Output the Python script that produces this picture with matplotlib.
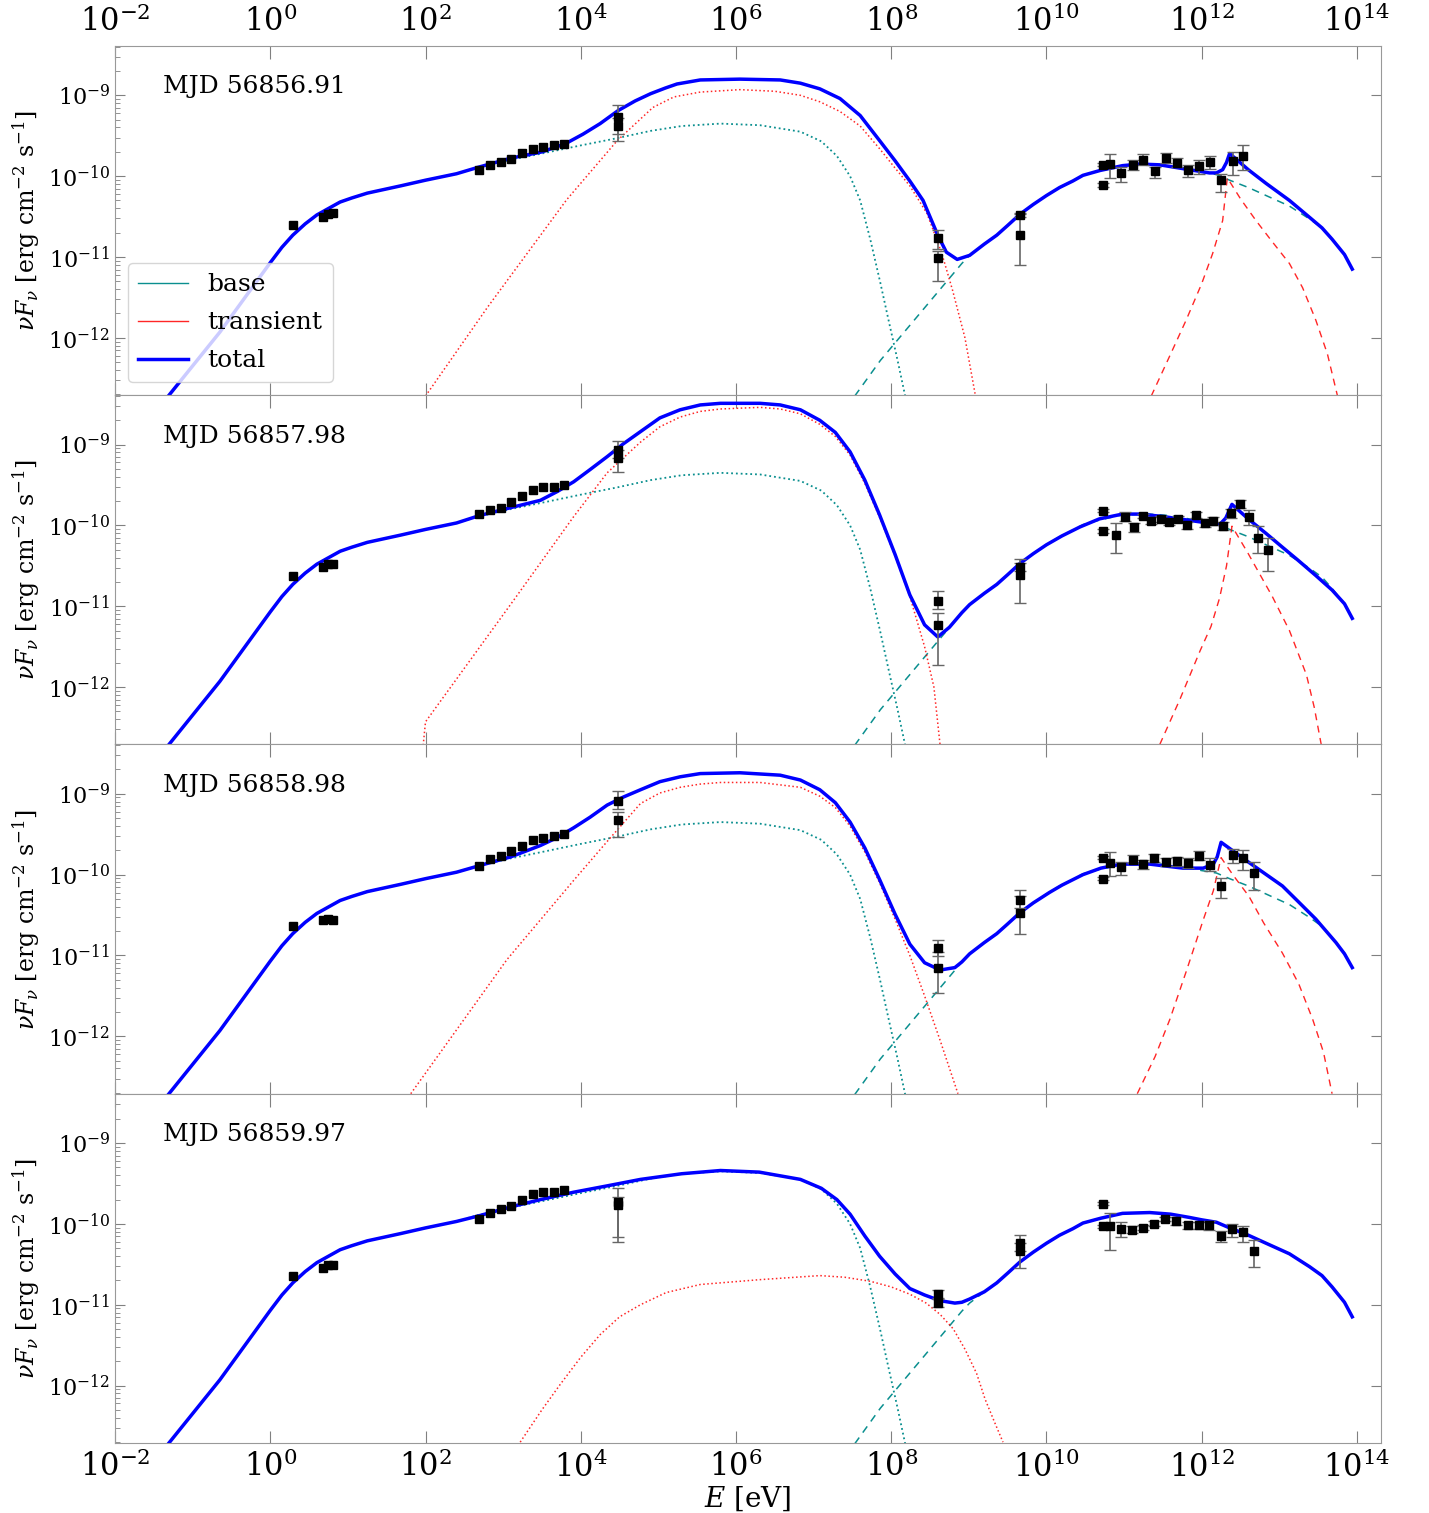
import numpy as np
import matplotlib.pyplot as plt
from matplotlib.lines import Line2D
from matplotlib.ticker import LogLocator, NullLocator, NullFormatter

plt.rcParams['font.family'] = 'DejaVu Serif'
plt.rcParams['mathtext.fontset'] = 'dejavuserif'

# everything below is log10(E / eV) and log10(nuFnu)
mjd = ["MJD 56856.91", "MJD 56857.98", "MJD 56858.98", "MJD 56859.97"]

# low-energy part of the synchrotron bump (same every night)
lowE = [-1.305, -0.65, 0.0, 0.15, 0.29, 0.45, 0.6, 0.75, 0.9, 1.05, 1.25, 1.68, 2.0]
lowF = [-12.71, -11.93, -11.07, -10.88, -10.73, -10.59, -10.48, -10.40, -10.32, -10.27, -10.21, -10.12, -10.05]

# steady ("base") component, same in all four nights
base_syn_E = lowE + [2.4, 2.68, 3.09, 3.5, 4.0, 4.47, 4.9, 5.3, 5.8, 6.31, 6.83, 7.1, 7.3, 7.47, 7.6, 7.73,
                     7.86, 7.97, 8.08, 8.18]
base_syn_F = lowF + [-9.97, -9.89, -9.80, -9.72, -9.62, -9.53, -9.44, -9.38, -9.35, -9.37, -9.45, -9.57, -9.75,
                     -10.0, -10.3, -10.78, -11.32, -11.80, -12.27, -12.72]
base_ic_E = [7.53, 7.86, 8.91, 9.01, 9.2, 9.36, 9.5, 9.66, 9.83, 10.0, 10.17, 10.34, 10.47, 10.7, 10.98, 11.33,
             11.6, 11.84, 12.0, 12.19, 12.36, 12.6, 12.83, 13.13, 13.39, 13.55, 13.68, 13.84, 13.94]
base_ic_F = [-12.72, -12.28, -11.08, -10.98, -10.84, -10.73, -10.61, -10.47, -10.35, -10.24, -10.14, -10.06,
             -9.99, -9.93, -9.87, -9.86, -9.88, -9.92, -9.95, -9.98, -10.05, -10.14, -10.24, -10.37, -10.53,
             -10.64, -10.78, -10.97, -11.15]

# total model, night 1..4
tot1_E = lowE + [2.4, 2.68, 3.09, 3.5, 3.8, 4.03, 4.25, 4.48, 4.7, 4.9, 5.09, 5.24, 5.54, 6.05, 6.57, 6.83,
                 7.08, 7.34, 7.6, 7.85, 8.05, 8.24, 8.41, 8.6, 8.71, 8.85, 9.01, 9.2, 9.36, 9.5, 9.66, 9.83,
                 10.0, 10.17, 10.34, 10.47, 10.69, 10.98, 11.2, 11.46, 11.84, 12.1, 12.19, 12.27, 12.32, 12.36,
                 12.6, 12.83, 13.13, 13.39, 13.55, 13.68, 13.84, 13.94]
tot1_F = lowF + [-9.97, -9.89, -9.78, -9.70, -9.60, -9.48, -9.35, -9.19, -9.07, -8.98, -8.91, -8.86, -8.81,
                 -8.80, -8.81, -8.85, -8.92, -9.04, -9.25, -9.56, -9.81, -10.06, -10.30, -10.73, -10.94, -11.03,
                 -10.98, -10.84, -10.73, -10.61, -10.47, -10.35, -10.24, -10.14, -10.06, -9.99, -9.93, -9.87,
                 -9.85, -9.86, -9.92, -9.96, -9.96, -9.92, -9.83, -9.72, -9.92, -10.09, -10.30, -10.51, -10.64,
                 -10.78, -10.97, -11.15]
tot2_E = lowE + [2.4, 2.69, 3.1, 3.48, 3.7, 3.91, 4.12, 4.34, 4.55, 4.77, 5.02, 5.28, 5.54, 5.8, 6.31, 6.57,
                 6.83, 7.08, 7.28, 7.47, 7.66, 7.85, 8.05, 8.24, 8.43, 8.6, 8.75, 8.91, 9.01, 9.2, 9.36, 9.5,
                 9.66, 9.83, 10.0, 10.2, 10.43, 10.68, 10.98, 11.2, 11.5, 11.93, 12.15, 12.23, 12.31, 12.39,
                 12.6, 12.83, 13.04, 13.24, 13.47, 13.68, 13.84, 13.94]
tot2_F = lowF + [-9.97, -9.88, -9.78, -9.69, -9.58, -9.46, -9.31, -9.15, -8.99, -8.84, -8.67, -8.57, -8.51,
                 -8.49, -8.49, -8.51, -8.57, -8.70, -8.85, -9.09, -9.44, -9.87, -10.36, -10.86, -11.23, -11.38,
                 -11.26, -11.08, -10.98, -10.84, -10.73, -10.61, -10.47, -10.35, -10.24, -10.13, -10.02, -9.92,
                 -9.86, -9.86, -9.89, -9.95, -9.98, -9.99, -9.91, -9.74, -9.92, -10.10, -10.27, -10.43, -10.62,
                 -10.80, -10.97, -11.15]
tot3_E = lowE + [2.4, 2.69, 3.1, 3.48, 3.7, 3.91, 4.12, 4.34, 4.55, 4.77, 5.02, 5.28, 5.54, 6.05, 6.57, 6.83,
                 7.08, 7.28, 7.47, 7.66, 7.85, 8.05, 8.24, 8.43, 8.63, 8.82, 8.91, 9.01, 9.2, 9.36, 9.5, 9.66,
                 9.83, 10.04, 10.2, 10.47, 10.7, 10.96, 11.33, 11.76, 12.02, 12.15, 12.2, 12.25, 12.61, 13.04,
                 13.24, 13.47, 13.73, 13.84, 13.94]
tot3_F = lowF + [-9.97, -9.89, -9.78, -9.64, -9.54, -9.42, -9.29, -9.14, -9.04, -8.95, -8.85, -8.79, -8.75,
                 -8.74, -8.77, -8.83, -8.95, -9.11, -9.35, -9.67, -10.06, -10.49, -10.86, -11.09, -11.18, -11.15,
                 -11.08, -10.98, -10.84, -10.73, -10.61, -10.47, -10.35, -10.22, -10.13, -10.00, -9.92, -9.87,
                 -9.87, -9.92, -9.92, -9.87, -9.78, -9.60, -9.85, -10.14, -10.33, -10.55, -10.84, -10.98,
                 -11.15]
tot4_E = lowE + [2.4, 2.69, 3.1, 3.48, 3.9, 4.34, 4.77, 5.3, 5.8, 6.3, 6.83, 7.1, 7.3, 7.47, 7.66, 7.85, 8.05,
                 8.24, 8.43, 8.63, 8.82, 8.91, 9.01, 9.2, 9.36, 9.5, 9.66, 9.83, 10.0, 10.17, 10.34, 10.47, 10.7,
                 10.98, 11.33, 11.6, 11.84, 12.0, 12.19, 12.36, 12.6, 12.83, 13.13, 13.39, 13.55, 13.68, 13.84,
                 13.94]
tot4_F = lowF + [-9.97, -9.90, -9.79, -9.70, -9.61, -9.53, -9.45, -9.38, -9.34, -9.36, -9.45, -9.56, -9.70,
                 -9.88, -10.15, -10.40, -10.62, -10.80, -10.88, -10.95, -10.98, -10.97, -10.93, -10.84, -10.73,
                 -10.61, -10.47, -10.35, -10.24, -10.14, -10.06, -9.99, -9.93, -9.87, -9.86, -9.88, -9.92,
                 -9.95, -9.98, -10.05, -10.14, -10.24, -10.37, -10.53, -10.64, -10.78, -10.97, -11.15]

# transient synchrotron
tsyn1_E = [2.0, 2.8, 3.82, 4.47, 4.93, 5.2, 5.54, 6.05, 6.5, 6.83, 7.08, 7.34, 7.6, 7.85, 8.05, 8.24, 8.46,
           8.65, 8.79, 8.95, 9.08]
tsyn1_F = [-12.72, -11.62, -10.29, -9.56, -9.15, -9.02, -8.96, -8.93, -8.95, -9.0, -9.08, -9.2, -9.38, -9.66,
           -9.90, -10.12, -10.46, -10.95, -11.41, -12.0, -12.69]
tsyn2_E = [1.97, 2.0, 3.14, 3.91, 4.34, 4.77, 5.02, 5.28, 5.54, 5.8, 6.31, 6.57, 6.83, 7.08, 7.28, 7.47, 7.66,
           7.85, 8.05, 8.24, 8.43, 8.55, 8.63]
tsyn2_F = [-12.72, -12.43, -10.92, -9.89, -9.35, -8.97, -8.78, -8.66, -8.59, -8.56, -8.54, -8.56, -8.62, -8.75,
           -8.90, -9.13, -9.48, -9.90, -10.38, -10.88, -11.5, -12.0, -12.72]
tsyn3_E = [1.81, 3.05, 3.91, 4.34, 4.77, 5.02, 5.28, 5.54, 5.8, 6.31, 6.83, 7.08, 7.28, 7.47, 7.66, 7.85, 8.05,
           8.24, 8.43, 8.63, 8.86]
tsyn3_F = [-12.71, -11.05, -10.07, -9.59, -9.12, -8.99, -8.92, -8.88, -8.86, -8.86, -8.92, -9.03, -9.17, -9.40,
           -9.72, -10.10, -10.55, -11.0, -11.5, -12.05, -12.71]
tsyn4_E = [3.22, 3.5, 3.74, 4.0, 4.25, 4.5, 4.77, 5.1, 5.54, 6.31, 7.08, 7.4, 7.73, 8.0, 8.24, 8.45, 8.63, 8.8,
           8.95, 9.1, 9.21, 9.33, 9.44]
tsyn4_F = [-12.70, -12.3, -11.98, -11.65, -11.37, -11.15, -11.0, -10.85, -10.75, -10.69, -10.64, -10.66, -10.71,
           -10.78, -10.87, -10.98, -11.12, -11.30, -11.55, -11.85, -12.17, -12.45, -12.70]

# transient inverse Compton (none visible on the last night)
tic1_E = [11.35, 11.6, 11.80, 12.0, 12.14, 12.27, 12.33, 12.5, 12.70, 12.9, 13.13, 13.3, 13.47, 13.62, 13.75]
tic1_F = [-12.72, -12.2, -11.78, -11.33, -10.96, -10.55, -10.02, -10.28, -10.55, -10.8, -11.08, -11.38, -11.78,
          -12.2, -12.72]
tic2_E = [11.46, 11.72, 11.98, 12.12, 12.23, 12.32, 12.39, 12.6, 12.91, 13.13, 13.35, 13.45, 13.54]
tic2_F = [-12.71, -12.15, -11.55, -11.25, -10.90, -10.5, -10.01, -10.35, -10.88, -11.3, -11.85, -12.25, -12.71]
tic3_E = [11.17, 11.4, 11.59, 11.8, 12.02, 12.15, 12.25, 12.4, 12.61, 12.8, 13.04, 13.25, 13.43, 13.57, 13.68]
tic3_F = [-12.71, -12.25, -11.79, -11.2, -10.56, -10.2, -9.79, -10.0, -10.27, -10.6, -10.97, -11.35, -11.79,
          -12.2, -12.71]

# data points
opt_E = [0.29, 0.68, 0.74, 0.81]
opt1 = [-10.60, -10.51, -10.47, -10.46]
opt2 = [-10.62, -10.51, -10.48, -10.48]
opt3 = [-10.64, -10.56, -10.55, -10.56]
opt4 = [-10.64, -10.55, -10.51, -10.51]

xrt_E = [2.69, 2.83, 2.97, 3.10, 3.24, 3.38, 3.51, 3.65, 3.79]
xrt1 = [-9.93, -9.86, -9.83, -9.79, -9.71, -9.66, -9.64, -9.61, -9.60]
xrt2 = [-9.86, -9.81, -9.78, -9.71, -9.64, -9.56, -9.52, -9.53, -9.50]
xrt3 = [-9.89, -9.81, -9.77, -9.71, -9.65, -9.57, -9.55, -9.52, -9.50]
xrt4 = [-9.94, -9.87, -9.82, -9.78, -9.70, -9.63, -9.61, -9.61, -9.58]

bat_E = [4.48, 4.48]
bat1, bat1_up, bat1_dn = [-9.27, -9.38], [0.15, 0.10], [0.21, 0.18]
bat2, bat2_up, bat2_dn = [-9.07, -9.17], [0.11, 0.10], [0.10, 0.17]
bat3, bat3_up, bat3_dn = [-9.09, -9.33], [0.13, 0.10], [0.10, 0.20]
bat4, bat4_up, bat4_dn = [-9.73, -9.77], [0.17, 0.10], [0.43, 0.46]

lat_E = [8.60, 8.60, 9.66, 9.66]
lat1, lat1_up, lat1_dn = [-10.76, -11.01, -10.48, -10.73], [0.10, 0.08, 0.02, 0.26], [0.14, 0.29, 0.02, 0.37]
lat2, lat2_up, lat2_dn = [-10.93, -11.23, -10.52, -10.61], [0.12, 0.15, 0.05, 0.20], [0.10, 0.50, 0.05, 0.35]
lat3, lat3_up, lat3_dn = [-10.91, -11.16, -10.31, -10.47], [0.10, 0.20, 0.12, 0.20], [0.10, 0.30, 0.10, 0.27]
lat4, lat4_up, lat4_dn = [-10.87, -10.98, -10.24, -10.34], [0.05, 0.05, 0.10, 0.10], [0.05, 0.05, 0.10, 0.20]

vhe1_E = [10.73, 10.73, 10.82, 10.96, 11.11, 11.25, 11.40, 11.54, 11.68, 11.82, 11.97, 12.11, 12.25, 12.40, 12.53]
vhe1 = [-9.86, -10.11, -9.85, -9.96, -9.86, -9.80, -9.94, -9.77, -9.84, -9.93, -9.88, -9.82, -10.05, -9.81, -9.75]
vhe1_up = [0.02, 0.02, 0.13, 0.07, 0.06, 0.07, 0.05, 0.06, 0.06, 0.07, 0.08, 0.07, 0.08, 0.11, 0.13]
vhe1_dn = [0.02, 0.02, 0.17, 0.11, 0.07, 0.06, 0.08, 0.07, 0.05, 0.08, 0.09, 0.09, 0.15, 0.18, 0.18]

vhe2_E = [10.73, 10.73, 10.90, 11.01, 11.13, 11.24, 11.35, 11.47, 11.58, 11.70, 11.81, 11.93, 12.04, 12.15,
          12.27, 12.38, 12.49, 12.61, 12.73, 12.86]
vhe2 = [-9.82, -10.07, -10.12, -9.90, -10.02, -9.88, -9.94, -9.92, -9.96, -9.92, -10.00, -9.87, -9.97, -9.95,
        -10.01, -9.85, -9.73, -9.90, -10.15, -10.30]
vhe2_up = [0.02, 0.02, 0.15, 0.06, 0.05, 0.02, 0.04, 0.04, 0.04, 0.04, 0.04, 0.04, 0.05, 0.05, 0.05, 0.05,
           0.05, 0.09, 0.14, 0.15]
vhe2_dn = [0.02, 0.02, 0.22, 0.05, 0.06, 0.03, 0.04, 0.04, 0.04, 0.04, 0.04, 0.04, 0.05, 0.05, 0.05, 0.06,
           0.06, 0.10, 0.19, 0.26]

vhe3_E = [10.73, 10.73, 10.82, 10.96, 11.11, 11.25, 11.39, 11.54, 11.68, 11.82, 11.97, 12.11, 12.25, 12.40,
          12.53, 12.68]
vhe3 = [-9.79, -10.05, -9.85, -9.91, -9.82, -9.87, -9.79, -9.84, -9.83, -9.86, -9.77, -9.88, -10.14, -9.76,
        -9.80, -9.98]
vhe3_up = [0.02, 0.02, 0.13, 0.07, 0.06, 0.05, 0.05, 0.05, 0.05, 0.06, 0.06, 0.08, 0.10, 0.08, 0.10, 0.14]
vhe3_dn = [0.02, 0.02, 0.17, 0.10, 0.03, 0.06, 0.05, 0.05, 0.06, 0.06, 0.05, 0.08, 0.15, 0.10, 0.14, 0.21]

vhe4_E = [10.73, 10.73, 10.82, 10.96, 11.10, 11.25, 11.39, 11.53, 11.67, 11.82, 11.96, 12.10, 12.25, 12.39,
          12.53, 12.68]
vhe4 = [-9.75, -10.03, -10.03, -10.06, -10.07, -10.05, -10.00, -9.94, -9.97, -10.02, -10.02, -10.02, -10.15,
        -10.06, -10.10, -10.34]
vhe4_up = [0.02, 0.02, 0.17, 0.08, 0.04, 0.03, 0.03, 0.03, 0.05, 0.04, 0.04, 0.05, 0.06, 0.06, 0.07, 0.14]
vhe4_dn = [0.02, 0.02, 0.29, 0.10, 0.04, 0.03, 0.03, 0.03, 0.04, 0.04, 0.04, 0.05, 0.08, 0.10, 0.12, 0.19]

totals = [(tot1_E, tot1_F), (tot2_E, tot2_F), (tot3_E, tot3_F), (tot4_E, tot4_F)]
tsyns = [(tsyn1_E, tsyn1_F), (tsyn2_E, tsyn2_F), (tsyn3_E, tsyn3_F), (tsyn4_E, tsyn4_F)]
tics = [(tic1_E, tic1_F), (tic2_E, tic2_F), (tic3_E, tic3_F), None]
opts = [opt1, opt2, opt3, opt4]
xrts = [xrt1, xrt2, xrt3, xrt4]
bats = [(bat1, bat1_up, bat1_dn), (bat2, bat2_up, bat2_dn), (bat3, bat3_up, bat3_dn), (bat4, bat4_up, bat4_dn)]
lats = [(lat1, lat1_up, lat1_dn), (lat2, lat2_up, lat2_dn), (lat3, lat3_up, lat3_dn), (lat4, lat4_up, lat4_dn)]
vhes = [(vhe1_E, vhe1, vhe1_up, vhe1_dn), (vhe2_E, vhe2, vhe2_up, vhe2_dn),
        (vhe3_E, vhe3, vhe3_up, vhe3_dn), (vhe4_E, vhe4, vhe4_up, vhe4_dn)]

teal = '#0a8f8f'


def p(a):
    return 10.0 ** np.asarray(a)


def points(ax, E, F, up=None, dn=None):
    F = np.asarray(F)
    if up is None:
        yerr = None
    else:
        yerr = [p(F) - p(F - np.asarray(dn)), p(F + np.asarray(up)) - p(F)]
    ax.errorbar(p(E), p(F), yerr=yerr, fmt='s', color='k', ms=5.5, ecolor='0.4', elinewidth=1.2,
                capsize=4, capthick=1, zorder=5)


fig, axes = plt.subplots(4, 1, sharex=True, figsize=(14.29, 15.13))
fig.subplots_adjust(left=0.0805, right=0.9664, top=0.9696, bottom=0.0463, hspace=0)

for i, ax in enumerate(axes):
    ax.set_xscale('log')
    ax.set_yscale('log')

    ax.plot(p(base_syn_E), p(base_syn_F), ls=':', color=teal, lw=1.3)
    ax.plot(p(base_ic_E), p(base_ic_F), ls='--', color=teal, lw=1.1, dashes=(5, 4))
    ax.plot(p(tsyns[i][0]), p(tsyns[i][1]), ls=':', color='red', lw=1.1, alpha=0.85)
    if tics[i] is not None:
        ax.plot(p(tics[i][0]), p(tics[i][1]), ls='--', color='red', lw=1.0, alpha=0.85, dashes=(5, 4))
    ax.plot(p(totals[i][0]), p(totals[i][1]), color='blue', lw=2.5, zorder=4)

    points(ax, opt_E, opts[i])
    points(ax, xrt_E, xrts[i])
    points(ax, bat_E, *bats[i])
    points(ax, lat_E, *lats[i])
    points(ax, *vhes[i])

    ax.set_xlim(1e-2, 10 ** 14.31)
    ax.set_ylim(10 ** -12.71, 10 ** -8.39)
    ax.set_xticks([10.0 ** k for k in range(-2, 15, 2)])
    ax.xaxis.set_minor_locator(NullLocator())
    ax.yaxis.set_major_locator(LogLocator(base=10, numticks=20))
    ax.yaxis.set_minor_locator(LogLocator(base=10, subs=np.arange(2, 10), numticks=20))
    ax.yaxis.set_minor_formatter(NullFormatter())
    ax.tick_params(axis='both', which='both', direction='in', top=True, right=True, color='0.5')
    ax.tick_params(axis='x', which='major', length=9, labelsize=22, pad=6,
                   labeltop=(i == 0), labelbottom=(i == 3))
    ax.tick_params(axis='y', which='major', length=7, labelsize=16)
    ax.tick_params(axis='y', which='minor', length=3.5, right=False)
    for s in ax.spines.values():
        s.set_color('0.6')

    ax.set_ylabel(r'$\nu F_\nu$ [erg cm$^{-2}$ s$^{-1}$]', fontsize=17)
    ax.text(0.038, 0.883, mjd[i], transform=ax.transAxes, fontsize=18, va='center')

axes[-1].set_xlabel(r'$E$ [eV]', fontsize=20, labelpad=0)

handles = [Line2D([], [], color=teal, lw=1.0),
           Line2D([], [], color='red', lw=1.0, alpha=0.85),
           Line2D([], [], color='blue', lw=2.5)]
axes[0].legend(handles, ['base', 'transient', 'total'], loc='lower left', bbox_to_anchor=(0.01, 0.037),
               borderaxespad=0, fontsize=18, handlelength=2.0, labelspacing=0.6, handletextpad=0.8)

fig.savefig('out.png', dpi=100)
